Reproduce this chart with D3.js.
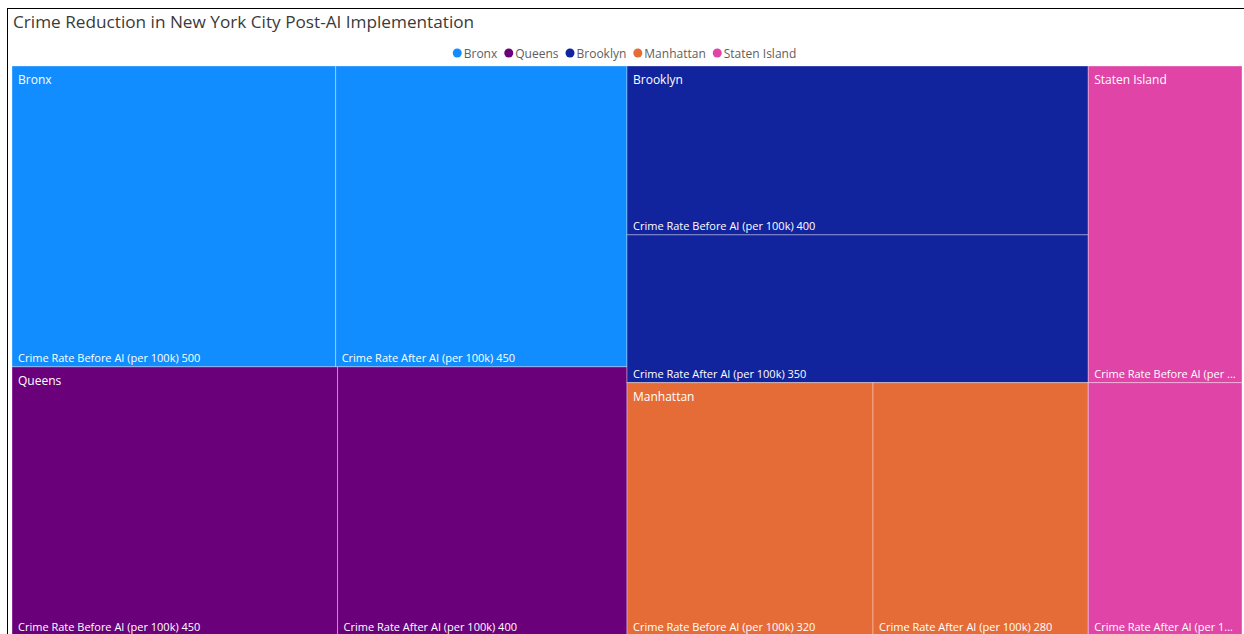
<!DOCTYPE html>
<html>
<head>
<meta charset="utf-8">
<script src="https://cdn.jsdelivr.net/npm/d3@7"></script>
<style>
  body { margin: 0; background: #fff; }
  svg text { font-family: "Segoe UI", "Open Sans", sans-serif; }
</style>
</head>
<body>
<div id="chart"></div>
<script>
// Datos del gráfico
const boroughs = ["Bronx", "Queens", "Brooklyn", "Manhattan", "Staten Island"];
const crimeBefore = [500, 450, 400, 320, 250];
const crimeAfter = [450, 400, 350, 280, 200];
const measures = ["Crime Rate Before AI (per 100k)", "Crime Rate After AI (per 100k)"];
const boroughColors = ["#118DFF", "#6B007B", "#12239E", "#E66C37", "#E044A7"];
const title = "Crime Reduction in New York City Post-AI Implementation";

const width = 1244;
const height = 634;

const svg = d3.select("#chart")
  .append("svg")
  .attr("width", width)
  .attr("height", height);

// Marco del visual
svg.append("rect")
  .attr("x", 7.5)
  .attr("y", 8.5)
  .attr("width", 1260)
  .attr("height", 700)
  .attr("fill", "none")
  .attr("stroke", "#000")
  .attr("stroke-width", 1);

// Título
svg.append("text")
  .attr("x", 13)
  .attr("y", 28)
  .attr("font-size", 17.2)
  .attr("fill", "#3b3a39")
  .text(title);

// Leyenda
const color = d3.scaleOrdinal().domain(boroughs).range(boroughColors);
const legend = svg.append("g");
let lx = 0;
boroughs.forEach(b => {
  const item = legend.append("g").attr("transform", `translate(${lx},0)`);
  item.append("circle")
    .attr("cx", 4.5)
    .attr("cy", 0)
    .attr("r", 4.5)
    .attr("fill", color(b));
  const t = item.append("text")
    .attr("x", 11)
    .attr("y", 4.5)
    .attr("font-size", 12)
    .attr("fill", "#605e5c")
    .text(b);
  lx += 11 + t.node().getComputedTextLength() + 7;
});
legend.attr("transform", `translate(${628 - lx / 2},53)`);

// Jerarquía para el treemap
const data = {
  name: "root",
  children: boroughs.map((b, i) => ({
    name: b,
    children: [
      { name: measures[0], value: crimeBefore[i] },
      { name: measures[1], value: crimeAfter[i] }
    ]
  }))
};

const root = d3.hierarchy(data)
  .sum(d => d.value || 0)
  .sort((a, b) => b.value - a.value);

d3.treemap()
  .size([1230, 570])
  .tile(d3.treemapSquarify)
  (root);

const plot = svg.append("g").attr("transform", "translate(12,66)");

// Hojas
const leaves = plot.selectAll("g.leaf")
  .data(root.leaves())
  .join("g")
  .attr("class", "leaf");

leaves.append("rect")
  .attr("x", d => d.x0)
  .attr("y", d => d.y0)
  .attr("width", d => d.x1 - d.x0)
  .attr("height", d => d.y1 - d.y0)
  .attr("fill", d => color(d.parent.data.name))
  .attr("stroke", "rgba(255,255,255,0.35)")
  .attr("stroke-width", 1);

// Recortar texto con puntos suspensivos
function fitText(sel, txt, maxW) {
  sel.text(txt);
  if (sel.node().getComputedTextLength() <= maxW) return;
  let s = txt;
  while (s.length > 0) {
    s = s.slice(0, -1);
    sel.text(s + "...");
    if (sel.node().getComputedTextLength() <= maxW) return;
  }
}

leaves.append("text")
  .attr("x", d => d.x0 + 6)
  .attr("y", d => d.y1 - 5)
  .attr("font-size", 11)
  .attr("fill", "#fff")
  .each(function (d) {
    fitText(d3.select(this), d.data.name + " " + d.value, d.x1 - d.x0 - 10);
  });

// Nombres de los distritos
plot.selectAll("text.parent")
  .data(root.children)
  .join("text")
  .attr("class", "parent")
  .attr("x", d => d.x0 + 6)
  .attr("y", d => d.y0 + 18)
  .attr("font-size", 12)
  .attr("fill", "#fff")
  .text(d => d.data.name);
</script>
</body>
</html>
